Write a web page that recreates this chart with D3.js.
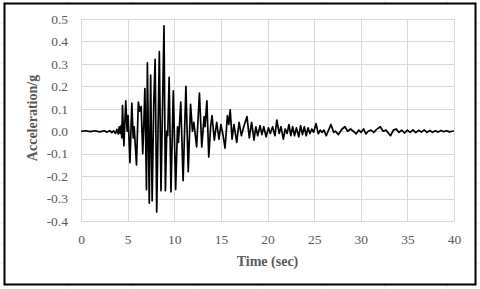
<!DOCTYPE html>
<html>
<head>
<meta charset="utf-8">
<script src="https://cdn.jsdelivr.net/npm/d3@7"></script>
<style>
  html, body { margin: 0; padding: 0; background: #fff; }
  svg { display: block; }
</style>
</head>
<body>
<div id="chart"></div>
<script>
// record: turning points of the accelerogram
var timeSec = [
    0, 0.5, 1.0, 1.5, 2.0, 2.5, 2.8, 3.1, 3.3, 3.5, 3.7, 3.85, 4.0, 4.1, 4.2, 4.3, 4.38,
    4.45, 4.6, 4.8, 4.95, 5.05, 5.25, 5.45, 5.6, 5.7, 5.95, 6.15, 6.3, 6.45, 6.62, 6.75,
    6.85, 7.02, 7.12, 7.32, 7.47, 7.63, 7.8, 7.95, 8.12, 8.4, 8.58, 8.9, 9.05, 9.2, 9.3,
    9.45, 9.65, 9.9, 10.15, 10.35, 10.45, 10.7, 10.95, 11.25, 11.5, 11.75, 11.95, 12.1,
    12.4, 12.7, 12.95, 13.2, 13.3, 13.5, 13.7, 13.9, 14.05, 14.3, 14.55, 14.8, 15.0, 15.2,
    15.45, 15.7, 15.85, 16.0, 16.2, 16.4, 16.7, 16.95, 17.2, 17.45, 17.8, 18.05, 18.3,
    18.55, 18.75, 18.95, 19.2, 19.4, 19.6, 19.85, 20.1, 20.3, 20.55, 20.8, 21.0, 21.25,
    21.45, 21.7, 21.9, 22.1, 22.3, 22.5, 22.7, 22.9, 23.1, 23.35, 23.55, 23.75, 23.95,
    24.15, 24.35, 24.55, 24.75, 24.95, 25.2, 25.45, 25.65, 25.85, 26.05, 26.3, 26.8, 27.1,
    27.3, 27.6, 28.0, 28.3, 28.6, 28.9, 29.2, 29.5, 29.8, 30.05, 30.3, 30.55, 30.8, 31.1,
    31.4, 31.7, 32.1, 32.4, 32.7, 33.2, 33.5, 33.8, 34.1, 34.4, 34.7, 35.0, 35.3, 35.6,
    35.9, 36.2, 36.5, 36.8, 37.1, 37.4, 37.7, 38.0, 38.3, 38.6, 38.9, 39.2, 39.5, 39.8, 40
];
var accelG = [
    0, 0.002, -0.002, 0.002, -0.003, 0.002, -0.004, 0.003, -0.006, 0.002, -0.01, 0.008, -0.012, 0.02, -0.01, 0.025, -0.03,
    0.115, -0.065, 0.135, 0.0, 0.07, -0.14, 0.125, -0.03, 0.02, -0.15, 0.13, 0.09, 0.11, -0.10, 0.05,
    0.19, -0.26, 0.305, -0.32, 0.25, -0.31, 0.12, 0.32, -0.36, 0.355, -0.265, 0.47, -0.265, 0.0, -0.02,
    0.24, -0.27, 0.18, -0.26, 0.02, -0.05, 0.13, -0.22, 0.2, -0.18, 0.12, 0.0, 0.04,
    -0.07, 0.17, -0.07, 0.065, 0.02, 0.135, -0.115, 0.02, 0.07, -0.04, 0.04, -0.035, 0.03, -0.01,
    -0.075, 0.07, 0.03, 0.095, -0.035, 0.03, -0.05, 0.04, -0.02, 0.02, 0.065, -0.03, 0.04,
    -0.04, 0.02, -0.02, 0.025, -0.015, 0.02, -0.025, 0.015, -0.01, 0.02, -0.02, 0.05, -0.01,
    0.02, -0.035, 0.01, -0.01, 0.03, -0.02, 0.02, -0.02, 0.015, -0.025, 0.025, -0.015, 0.02,
    -0.02, 0.015, -0.01, 0.01, -0.005, 0.034, -0.012, 0.005, -0.005, 0.005, -0.02, 0.03, -0.005,
    0.0, -0.015, 0.01, 0.02, 0.0, 0.01, 0.0, -0.012, 0.005, -0.005, 0.01, -0.012, 0.0, 0.005,
    -0.005, 0.008, 0.02, 0.0, 0.005, -0.02, 0.005, 0.01, -0.005, 0.005, -0.008, 0.005, -0.005, 0.006,
    -0.006, 0.004, -0.004, 0.006, -0.005, 0.003, -0.005, 0.002, -0.004, 0.003, -0.002, 0.002, -0.003, 0.0, 0.001
];
var xTicks = [0, 5, 10, 15, 20, 25, 30, 35, 40];
var yTicks = [-0.4, -0.3, -0.2, -0.1, 0, 0.1, 0.2, 0.3, 0.4, 0.5];
var xTitle = "Time (sec)";
var yTitle = "Acceleration/g";

function drawChart() {
    var w = 480, h = 289;
    var plot = { left: 81, right: 454, top: 19, bottom: 221 };
    var serif = "'Liberation Serif', 'Times New Roman', serif";

    var svg = d3.select("#chart")
        .append("svg")
        .attr("width", w)
        .attr("height", h);

    // faint spreadsheet cells behind the chart object
    var bg = svg.append("g").attr("stroke", "#f3f3f3").attr("stroke-width", 1);
    d3.range(4, w, 63.3).forEach(x => {
        bg.append("line").attr("x1", Math.round(x) + 0.5).attr("x2", Math.round(x) + 0.5)
            .attr("y1", 0).attr("y2", h);
    });
    d3.range(3, h, 20).forEach(y => {
        bg.append("line").attr("y1", y + 0.5).attr("y2", y + 0.5)
            .attr("x1", 0).attr("x2", w);
    });

    // chart frame
    svg.append("rect")
        .attr("x", 4.5).attr("y", 3.5)
        .attr("width", 471).attr("height", 281)
        .attr("fill", "#fff")
        .attr("stroke", "#000")
        .attr("stroke-width", 2);

    var xScale = d3.scaleLinear().domain([0, 40]).range([plot.left, plot.right]);
    var yScale = d3.scaleLinear().domain([-0.4, 0.5]).range([plot.bottom, plot.top]);

    // gridlines
    svg.append("g")
        .selectAll("line")
        .data(yTicks)
        .enter()
        .append("line")
        .attr("x1", plot.left).attr("x2", plot.right)
        .attr("y1", d => Math.round(yScale(d)) + 0.5)
        .attr("y2", d => Math.round(yScale(d)) + 0.5)
        .attr("stroke", "#d9d9d9");

    svg.append("g")
        .selectAll("line")
        .data(xTicks)
        .enter()
        .append("line")
        .attr("y1", plot.top).attr("y2", plot.bottom)
        .attr("x1", d => Math.round(xScale(d)) + 0.5)
        .attr("x2", d => Math.round(xScale(d)) + 0.5)
        .attr("stroke", "#d9d9d9");

    // axes (labels only, the lines are the gridlines)
    var yAxis = svg.append("g")
        .attr("transform", `translate(${plot.left},0)`)
        .call(d3.axisLeft(yScale).tickValues(yTicks).tickSize(0).tickPadding(13)
            .tickFormat(d => d.toFixed(1)));
    var xAxis = svg.append("g")
        .attr("transform", `translate(0,${plot.bottom})`)
        .call(d3.axisBottom(xScale).tickValues(xTicks).tickSize(0).tickPadding(13)
            .tickFormat(d => String(d)));

    [yAxis, xAxis].forEach(ax => {
        ax.select(".domain").remove();
        ax.selectAll("text")
            .style("font-family", serif)
            .style("font-size", "13.5px")
            .attr("fill", "#595959");
    });

    // record
    var points = timeSec.map((t, i) => ({ t: t, a: accelG[i] }));
    var line = d3.line()
        .x(d => xScale(d.t))
        .y(d => yScale(d.a))
        .curve(d3.curveLinear);

    svg.append("path")
        .datum(points)
        .attr("fill", "none")
        .attr("stroke", "#000")
        .attr("stroke-width", 1.7)
        .attr("stroke-linejoin", "round")
        .attr("d", line);

    // titles
    svg.append("text")
        .attr("x", (plot.left + plot.right) / 2)
        .attr("y", 266)
        .attr("text-anchor", "middle")
        .style("font-family", serif)
        .style("font-size", "14px")
        .style("font-weight", "bold")
        .attr("fill", "#595959")
        .text(xTitle);

    svg.append("text")
        .attr("transform", `translate(37,${(plot.top + plot.bottom) / 2 - 2}) rotate(-90)`)
        .attr("text-anchor", "middle")
        .style("font-family", serif)
        .style("font-size", "14px")
        .style("font-weight", "bold")
        .attr("fill", "#595959")
        .text(yTitle);
}

window.onload = drawChart;
</script>
</body>
</html>
